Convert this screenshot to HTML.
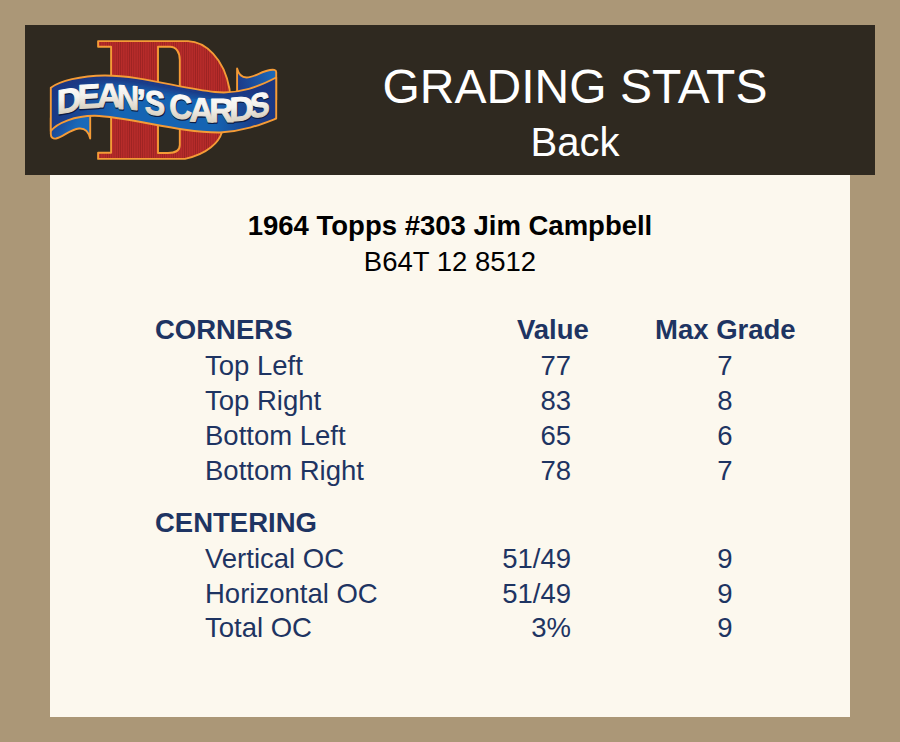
<!DOCTYPE html>
<html><head><meta charset="utf-8">
<style>
html,body{margin:0;padding:0;}
body{width:900px;height:742px;position:relative;overflow:hidden;background:#ab9777;font-family:"Liberation Sans",sans-serif;}
.hdr{position:absolute;left:25px;top:25px;width:850px;height:150px;background:#2f2920;}
.logo{position:absolute;left:0;top:0;}
.panel{position:absolute;left:50px;top:175px;width:800px;height:542px;background:#fcf8ee;}
.t{position:absolute;white-space:nowrap;line-height:1;}
.w{color:#fff;}
.nv{color:#1e3462;font-size:27.5px;}
.b{font-weight:bold;}
.r{text-align:right;}
.c{text-align:center;}
</style></head><body>
<div class="hdr"></div>
<svg class="logo" width="300" height="180" viewBox="0 0 300 180">
<defs>
<pattern id="stripes" width="2.2" height="10" patternUnits="userSpaceOnUse">
<rect width="2.2" height="10" fill="#b82c2a"/>
<rect x="1.4" width="0.8" height="10" fill="#9a2222"/>
</pattern>
<radialGradient id="bandg" cx="175" cy="118" r="115" gradientUnits="userSpaceOnUse" gradientTransform="translate(175 118) scale(1 0.6) translate(-175 -118)">
<stop offset="0" stop-color="#1a72c2"/>
<stop offset="0.55" stop-color="#1866b8"/>
<stop offset="1" stop-color="#1c3783"/>
</radialGradient>
<linearGradient id="tailg" x1="50" y1="118" x2="90" y2="138" gradientUnits="userSpaceOnUse">
<stop offset="0" stop-color="#1c3a88"/>
<stop offset="0.6" stop-color="#1a68b8"/>
<stop offset="1" stop-color="#1a6cbc"/>
</linearGradient>
<linearGradient id="flagg" x1="237" y1="80" x2="276" y2="72" gradientUnits="userSpaceOnUse">
<stop offset="0" stop-color="#1d3a88"/>
<stop offset="1" stop-color="#1a6cbc"/>
</linearGradient>
<linearGradient id="txtg" x1="0" y1="0" x2="0" y2="1">
<stop offset="0" stop-color="#ffffff"/>
<stop offset="0.45" stop-color="#f4f2ee"/>
<stop offset="1" stop-color="#cdc2ae"/>
</linearGradient>
<clipPath id="bandclip"><path d="M50.8,87.7 C60,81 80,75.8 105,75.5 C140,75.5 180,88 215,92 C240,94.5 260,86 276.2,77.5 L276.2,118.5 C262,124 245,131 220,132.5 C180,133 130,117 95,115.7 C75,115.5 57,123 50.8,131 Z"/></clipPath>
<filter id="blur4" x="-20%" y="-50%" width="140%" height="200%"><feGaussianBlur stdDeviation="4"/></filter>
<linearGradient id="rendg" x1="215" y1="0" x2="277" y2="0" gradientUnits="userSpaceOnUse">
<stop offset="0" stop-color="#1b3682" stop-opacity="0"/>
<stop offset="0.55" stop-color="#1b3682" stop-opacity="0.75"/>
<stop offset="1" stop-color="#1b3682" stop-opacity="1"/>
</linearGradient>
<linearGradient id="lendg" x1="51" y1="0" x2="115" y2="0" gradientUnits="userSpaceOnUse">
<stop offset="0" stop-color="#1b3682" stop-opacity="0.95"/>
<stop offset="0.5" stop-color="#1b3682" stop-opacity="0.6"/>
<stop offset="1" stop-color="#1b3682" stop-opacity="0"/>
</linearGradient>
</defs>
<g stroke="#f59b36" stroke-width="1.9" stroke-linejoin="round">
<path fill="url(#stripes)" d="M98.1,41.1 L188,41.1 C205,41.5 224,58 229.5,89 L231,110 L222,132 C219,142 208,154 185,158.9 L98.1,158.9 L98.1,152.8 L111.1,152.8 L111.1,46.8 L98.1,46.8 Z"/>
<path fill="#2f2920" d="M158,46.8 L170,46.8 C176,46.8 179.8,52 179.8,60 L179.8,145 C179.8,150 176,153 168,153 L158,153 Z"/>
<path fill="url(#tailg)" d="M50.8,118 L50.8,134 C50.8,137.5 53,139 56,138.5 C63,137 70,129.5 79,128.5 C85,128 88.5,131 90.2,138.6 L90.2,112 Z"/>
<path fill="url(#flagg)" d="M237.1,68.5 C238.5,74 242,77.5 246.5,77.5 C254,77.5 262,71 270,70 C273,69.6 276.2,69.5 276.2,72 L276.2,100 L237.1,100 Z"/>
<path fill="#1564b3" stroke="none" d="M50.8,87.7 C60,81 80,75.8 105,75.5 C140,75.5 180,88 215,92 C240,94.5 260,86 276.2,77.5 L276.2,118.5 C262,124 245,131 220,132.5 C180,133 130,117 95,115.7 C75,115.5 57,123 50.8,131 Z"/>
<g clip-path="url(#bandclip)" stroke="none">
<path fill="none" stroke="#1a3480" stroke-width="22" filter="url(#blur4)" d="M40,90 C60,79 80,72 105,72 C140,72 180,84 215,88 C240,91 260,82 290,72"/>
<rect x="215" y="60" width="75" height="80" fill="url(#rendg)"/>
<rect x="40" y="60" width="80" height="80" fill="url(#lendg)"/>
</g>
<path fill="none" d="M50.8,87.7 C60,81 80,75.8 105,75.5 C140,75.5 180,88 215,92 C240,94.5 260,86 276.2,77.5 L276.2,118.5 C262,124 245,131 220,132.5 C180,133 130,117 95,115.7 C75,115.5 57,123 50.8,131 Z"/>
</g>
<g font-family="Liberation Sans" font-weight="bold" font-size="34" fill="#0c1c46" stroke="#0c1c46" stroke-width="1.6" stroke-linejoin="round" transform="translate(0.6,1.0)">
<text transform="translate(56.7,114.3) skewY(-10.2) scale(1,1)">D</text>
<text transform="translate(77.4,108.8) skewY(-3.4) scale(1,1)">E</text>
<text transform="translate(96.9,107.3) skewY(0.0) scale(1,1)">A</text>
<text transform="translate(117.0,108.6) skewY(4.0) scale(0.9,1)">N</text>
<text transform="translate(136.4,112.8) skewY(5.7) scale(1,1)">&#8217;</text>
<text transform="translate(144.8,113.8) skewY(5.7) scale(0.9,1)">S</text>
<text transform="translate(169.2,117.8) skewY(4.0) scale(0.93,1)">C</text>
<text transform="translate(189.2,121.2) skewY(2.3) scale(1,1)">A</text>
<text transform="translate(209.2,122.2) skewY(0.0) scale(1,1)">R</text>
<text transform="translate(229.3,121.5) skewY(-4.6) scale(1,1)">D</text>
<text transform="translate(249.7,118.6) skewY(-10.2) scale(0.88,1)">S</text>
</g>
<g font-family="Liberation Sans" font-weight="bold" font-size="34" fill="url(#txtg)" stroke="url(#txtg)" stroke-width="1.0" stroke-linejoin="round">
<text transform="translate(56.7,114.3) skewY(-10.2) scale(1,1)">D</text>
<text transform="translate(77.4,108.8) skewY(-3.4) scale(1,1)">E</text>
<text transform="translate(96.9,107.3) skewY(0.0) scale(1,1)">A</text>
<text transform="translate(117.0,108.6) skewY(4.0) scale(0.9,1)">N</text>
<text transform="translate(136.4,112.8) skewY(5.7) scale(1,1)">&#8217;</text>
<text transform="translate(144.8,113.8) skewY(5.7) scale(0.9,1)">S</text>
<text transform="translate(169.2,117.8) skewY(4.0) scale(0.93,1)">C</text>
<text transform="translate(189.2,121.2) skewY(2.3) scale(1,1)">A</text>
<text transform="translate(209.2,122.2) skewY(0.0) scale(1,1)">R</text>
<text transform="translate(229.3,121.5) skewY(-4.6) scale(1,1)">D</text>
<text transform="translate(249.7,118.6) skewY(-10.2) scale(0.88,1)">S</text>
</g>
</svg>
<div class="panel"></div>

<div class="t w" style="left:275px;width:600px;text-align:center;font-size:48px;top:63px;">GRADING STATS</div>
<div class="t w" style="left:275px;width:600px;text-align:center;font-size:40px;top:122px;">Back</div>

<div class="t b" style="left:0;width:900px;text-align:center;font-size:27.5px;top:212px;color:#000;">1964 Topps #303 Jim Campbell</div>
<div class="t" style="left:0;width:900px;text-align:center;font-size:27.5px;top:248px;color:#000;">B64T 12 8512</div>

<div class="t nv b" style="left:155px;top:316px;">CORNERS</div>
<div class="t nv b" style="left:517px;top:316px;">Value</div>
<div class="t nv b" style="left:655px;top:316px;">Max Grade</div>

<div class="t nv" style="left:205px;top:352px;">Top Left</div>
<div class="t nv r" style="left:470px;width:101px;top:352px;">77</div>
<div class="t nv c" style="left:675px;width:100px;top:352px;">7</div>
<div class="t nv" style="left:205px;top:387px;">Top Right</div>
<div class="t nv r" style="left:470px;width:101px;top:387px;">83</div>
<div class="t nv c" style="left:675px;width:100px;top:387px;">8</div>
<div class="t nv" style="left:205px;top:422px;">Bottom Left</div>
<div class="t nv r" style="left:470px;width:101px;top:422px;">65</div>
<div class="t nv c" style="left:675px;width:100px;top:422px;">6</div>
<div class="t nv" style="left:205px;top:457px;">Bottom Right</div>
<div class="t nv r" style="left:470px;width:101px;top:457px;">78</div>
<div class="t nv c" style="left:675px;width:100px;top:457px;">7</div>
<div class="t nv" style="left:205px;top:545px;">Vertical OC</div>
<div class="t nv r" style="left:470px;width:101px;top:545px;">51/49</div>
<div class="t nv c" style="left:675px;width:100px;top:545px;">9</div>
<div class="t nv" style="left:205px;top:580px;">Horizontal OC</div>
<div class="t nv r" style="left:470px;width:101px;top:580px;">51/49</div>
<div class="t nv c" style="left:675px;width:100px;top:580px;">9</div>
<div class="t nv" style="left:205px;top:614px;">Total OC</div>
<div class="t nv r" style="left:470px;width:101px;top:614px;">3%</div>
<div class="t nv c" style="left:675px;width:100px;top:614px;">9</div>
<div class="t nv b" style="left:155px;top:509px;">CENTERING</div>
</body></html>
